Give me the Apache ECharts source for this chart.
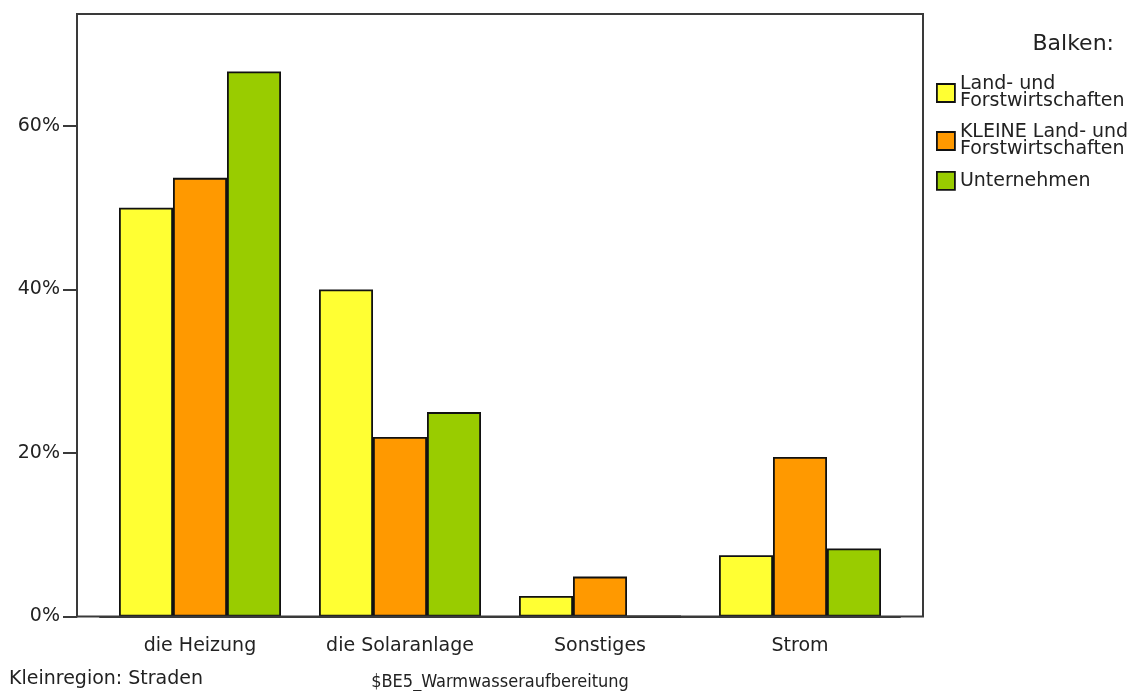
<!DOCTYPE html>
<html>
<head>
<meta charset="utf-8">
<script src="https://cdn.jsdelivr.net/npm/echarts@6/dist/echarts.min.js"></script>
<style>
  html, body { margin: 0; padding: 0; background: #fff; }
  #chart { width: 1135px; height: 691px; }
</style>
</head>
<body>
<div id="chart"></div>
<script>
// categories on the x axis
const categories = ['die Heizung', 'die Solaranlage', 'Sonstiges', 'Strom']
// series names (legend)
const seriesNames = [
  'Land- und\nForstwirtschaften',
  'KLEINE Land- und\nForstwirtschaften',
  'Unternehmen'
]
// values in percent
const landForst = [50, 40, 2.5, 7.5]
const kleineLandForst = [53.66, 21.95, 4.88, 19.51]
const unternehmen = [66.67, 25, 0, 8.33]
// y axis tick values
const yTicks = [0, 20, 40, 60]

const colors = ['#ffff33', '#ff9900', '#99cc00']
const font = 'DejaVu Sans'
const textColor = '#222'

const chart = echarts.init(document.getElementById('chart'))

const barSeries = [landForst, kleineLandForst, unternehmen].map((data, i) => ({
  name: seriesNames[i],
  type: 'bar',
  data: data,
  barWidth: 54,
  barGap: '0%',
  itemStyle: {
    color: colors[i],
    borderColor: '#111',
    borderWidth: 1.8
  }
}))

chart.setOption({
  animation: false,
  title: [
    {
      text: 'Balken:',
      right: 16,
      top: 28,
      textStyle: { fontFamily: font, fontSize: 22, fontWeight: 'normal', color: textColor }
    },
    {
      text: 'Kleinregion: Straden',
      left: 9,
      top: 670,
      padding: 0,
      textStyle: { fontFamily: font, fontSize: 19, fontWeight: 'normal', color: textColor }
    }
  ],
  legend: {
    orient: 'vertical',
    left: 936,
    top: 75,
    padding: 0,
    itemWidth: 18,
    itemHeight: 18,
    itemGap: 12,
    icon: 'rect',
    data: seriesNames,
    itemStyle: { borderColor: '#111', borderWidth: 1.8 },
    textStyle: { fontFamily: font, fontSize: 19, lineHeight: 17, color: textColor }
  },
  graphic: [
    {
      type: 'rect',
      z: 10,
      shape: { x: 77, y: 14, width: 846, height: 602.5 },
      style: { fill: 'none', stroke: '#3a3a3a', lineWidth: 2 }
    }
  ],
  grid: {
    left: 100,
    right: 235,
    top: 14,
    bottom: 74.5,
    outerBoundsMode: 'none',
    containLabel: false
  },
  xAxis: {
    type: 'category',
    data: categories,
    name: '$BE5_Warmwasseraufbereitung',
    nameLocation: 'middle',
    nameGap: 57,
    nameTextStyle: {
      fontFamily: "'DejaVu Sans Condensed', 'DejaVu Sans'",
      fontSize: 18,
      color: textColor
    },
    axisLine: { lineStyle: { color: '#3a3a3a', width: 2 } },
    axisTick: { alignWithLabel: true, length: 14, lineStyle: { color: '#3a3a3a', width: 2 } },
    axisLabel: { margin: 20, fontFamily: font, fontSize: 19, color: textColor }
  },
  yAxis: {
    type: 'value',
    min: 0,
    max: 73.7,
    offset: 23,
    splitLine: { show: false },
    axisLine: { show: true, lineStyle: { color: '#3a3a3a', width: 2 } },
    axisTick: { show: true, length: 14, customValues: yTicks, lineStyle: { color: '#3a3a3a', width: 2 } },
    axisLabel: {
      customValues: yTicks,
      margin: 17,
      formatter: '{value}%',
      fontFamily: font,
      fontSize: 19,
      color: textColor
    }
  },
  series: barSeries
})
</script>
</body>
</html>
